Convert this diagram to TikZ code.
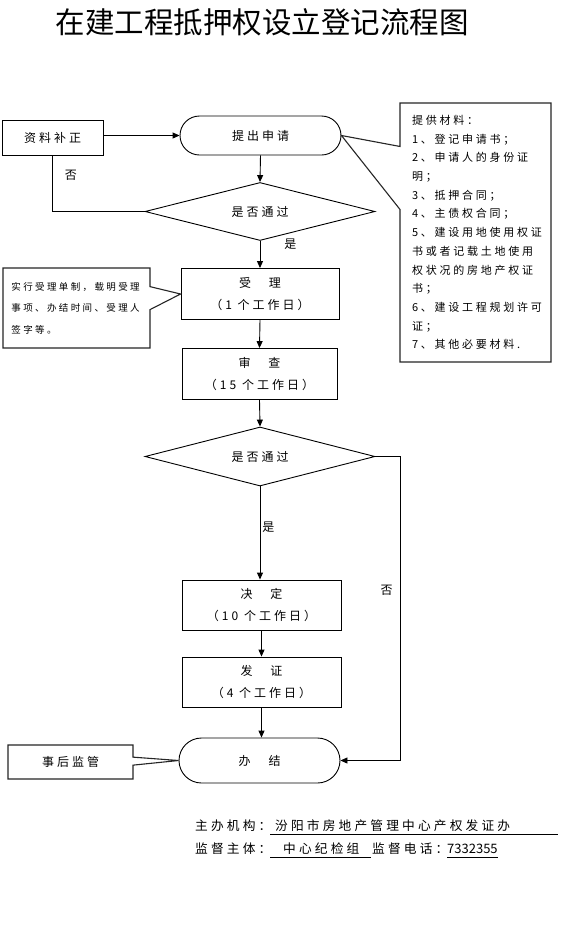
\documentclass[tikz,border=0pt]{standalone}
\usepackage{fontspec}
\newfontfamily\cjk[LetterSpace=25]{Noto Sans CJK SC}
\newfontfamily\cjktitle{Noto Sans CJK SC}
\usetikzlibrary{arrows.meta,shapes.geometric,shapes.misc,shapes.callouts}

\begin{document}
\begin{tikzpicture}[x=1pt,y=-1pt,
  stepbox/.style={draw,line width=0.9pt,minimum width=158pt,minimum height=51pt,
               inner sep=0pt,align=center,font=\cjk\fontsize{12}{22}\selectfont},
  endbox/.style={draw,line width=0.9pt,rounded rectangle,minimum width=161pt,
               inner sep=0pt,font=\cjk\fontsize{12}{14}\selectfont},
  checkbox/.style={draw,line width=0.9pt,diamond,aspect=4,minimum width=230pt,
               minimum height=58pt,inner sep=0pt,font=\cjk\fontsize{12}{14}\selectfont},
  notebox/.style={draw=black!85,line width=1.1pt,rectangle callout,inner sep=0pt,
               align=left,font=\cjk\fontsize{11}{18.7}\selectfont},
  arr/.style={-{Triangle[length=7pt,width=6pt]},line width=0.9pt},
  lbl/.style={inner sep=0pt,font=\cjk\fontsize{12}{14}\selectfont},
  foot/.style={inner sep=0pt,anchor=base west,font=\cjk\fontsize{12.7}{14}\selectfont},
  uline/.style={line width=0.8pt}]

  \path[use as bounding box,fill=white] (0,0) rectangle (570,930);

  \node[font=\cjktitle\fontsize{29.5}{31}\selectfont] (title) at (262.5,22) {在建工程抵押权设立登记流程图};

  % main column
  \node[stepbox,minimum width=101pt,minimum height=35pt] (fix) at (52.5,137.5) {资料补正};
  \node[endbox,minimum height=39pt] (apply) at (260.5,135.5) {提出申请};
  \node[checkbox] (check1) at (260,211.5) {是否通过};
  \node[stepbox] (accept) at (260,294) {受　理\\（1 个工作日）};
  \node[stepbox,minimum width=155pt] (review) at (259.5,374) {审　查\\（15 个工作日）};
  \node[checkbox,minimum height=59pt] (check2) at (260,456.5) {是否通过};
  \node[stepbox,minimum width=159pt,minimum height=50pt] (decide) at (261.5,605) {决　定\\（10 个工作日）};
  \node[stepbox,minimum width=159pt,minimum height=50pt] (issue) at (261.5,682) {发　证\\（4 个工作日）};
  \node[endbox,minimum height=45pt] (finish) at (259.5,760.5) {办　结};

  % callouts
  \node[notebox,minimum width=151pt,minimum height=259pt,text width=127pt,
        callout absolute pointer={(apply.east)},callout pointer width=63pt] (docs) at (475.5,232.5)
        {提供材料：\\1、登记申请书；\\2、申请人的身份证\\明；\\3、抵押合同；\\4、主债权合同；\\
         5、建设用地使用权证\\书或者记载土地使用\\权状况的房地产权证\\书；\\6、建设工程规划许可\\证；\\7、其他必要材料.};
  \node[notebox,font=\cjk\fontsize{9.5}{21.5}\selectfont,minimum width=147pt,minimum height=80pt,
        text width=130pt,callout absolute pointer={(accept.west)},callout pointer width=23pt] (note) at (76.5,308)
        {实行受理单制，载明受理\\事项、办结时间、受理人\\签字等。};
  \node[notebox,font=\cjk\fontsize{12}{14}\selectfont,minimum width=125pt,minimum height=34pt,
        align=center,callout absolute pointer={(finish.west)},callout pointer width=8pt] (watch) at (70.5,762) {事后监管};

  % connectors
  \draw[arr] (fix.east |- apply.west) -- (apply.west);
  \draw[arr] (apply.south) -- (check1.north);
  \draw[line width=0.9pt] (check1.west) -| (fix.south) node[pos=0.82,right=12pt,lbl]{否};
  \draw[arr] (check1.south) -- (accept.north) node[pos=0.12,right=24pt,lbl]{是};
  \draw[arr] (accept.south) -- (review.north);
  \draw[arr] (review.south) -- (check2.north);
  \draw[arr] (check2.south) -- (check2.south |- decide.north) node[pos=0.44,right=2pt,lbl]{是};
  \draw[arr] (decide.south) -- (issue.north);
  \draw[arr] (issue.south) -- (issue.south |- finish.north);
  \coordinate (back) at (400,456.5);
  \draw[arr] (check2.east) -- (back) |- (finish.east) node[pos=0.22,left=7pt,lbl]{否};

  % footer
  \node[foot] (org) at (195,830) {主办机构：};
  \node[foot] (orgname) at (275,830) {汾阳市房地产管理中心产权发证办};
  \draw[uline] ([xshift=-5pt,yshift=-4pt]orgname.base west) -- ++(288,0);
  \node[foot] (sup) at (195,853) {监督主体：};
  \node[foot] (supname) at (283,853) {中心纪检组};
  \draw[uline] ([xshift=-13pt,yshift=-4pt]supname.base west) -- ([xshift=11pt,yshift=-4pt]supname.base east);
  \node[foot] (tel) at (372,853) {监督电话：};
  \node[foot,font=\cjktitle\fontsize{13}{14}\selectfont] (telno) at (447,853) {7332355};
  \draw[uline] ([yshift=-4pt]telno.base west) -- ([yshift=-4pt]telno.base east);
\end{tikzpicture}
\end{document}
